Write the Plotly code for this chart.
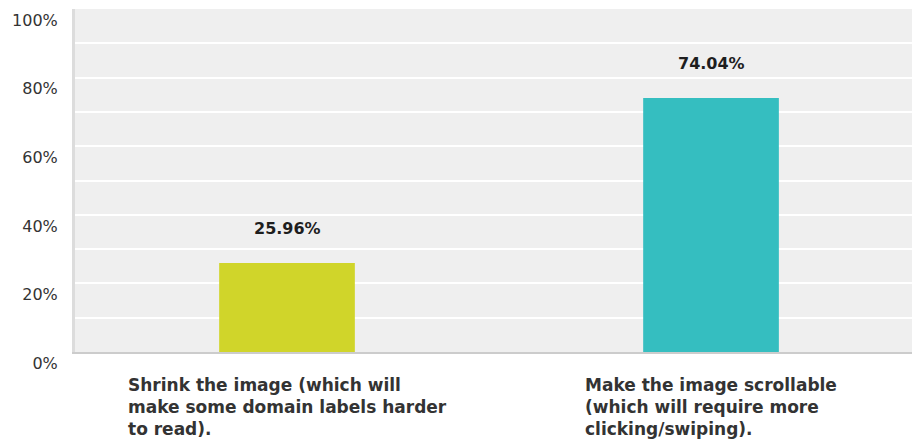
import plotly.graph_objects as go

categories = ["Shrink the image (which will<br>make some domain labels harder<br>to read).",
              "Make the image scrollable<br>(which will require more<br>clicking/swiping)."]
values = [25.96, 74.04]
value_labels = ["25.96%", "74.04%"]
colors = ["#D0D52A", "#35BEC0"]
y_ticks = [0, 20, 40, 60, 80, 100]
y_tick_labels = ["0%", "20%", "40%", "60%", "80%", "100%"]

x_idx = list(range(len(categories)))

fig = go.Figure()
fig.add_trace(go.Bar(x=x_idx, y=values, marker=dict(color=colors, line=dict(width=0)),
                     width=0.32, hoverinfo="skip"))

annotations = []
for i, (v, t) in enumerate(zip(values, value_labels)):
    annotations.append(dict(x=i, y=v, xref="x", yref="y", text="<b>" + t + "</b>",
                            showarrow=False, yanchor="bottom", yshift=23,
                            font=dict(family="DejaVu Sans", size=16, color="#1E1E1E")))
for i, c in enumerate(categories):
    annotations.append(dict(x=i, y=0, xref="x", yref="paper", text="<b>" + c + "</b>",
                            showarrow=False, xanchor="center", yanchor="top", align="left",
                            yshift=-21,
                            font=dict(family="DejaVu Sans", size=17, color="#333")))

fig.update_layout(
    width=912, height=439,
    margin=dict(l=75, r=0, t=9, b=87),
    paper_bgcolor="white", plot_bgcolor="#EFEFEF",
    showlegend=False,
    annotations=annotations,
    xaxis=dict(range=[-0.5, 1.474], showticklabels=False, showgrid=False, zeroline=False,
               showline=True, linecolor="#CCCCCC", linewidth=2, fixedrange=True,
               automargin=False),
    yaxis=dict(range=[0, 100], tickvals=y_ticks, ticktext=y_tick_labels,
               showgrid=True, gridcolor="white", gridwidth=2, zeroline=False,
               showline=True, linecolor="#DCDCDC", linewidth=3, automargin=False,
               fixedrange=True,
               ticklabelposition="outside bottom", ticks="", ticklabelstandoff=11,
               tickfont=dict(family="DejaVu Sans", size=16, color="#333"),
               minor=dict(dtick=10, showgrid=True, gridcolor="white", gridwidth=2)),
)
fig.write_html("out.html", config={"displayModeBar": False},
               post_script="document.body.style.margin='0';document.body.style.overflow='hidden';")
